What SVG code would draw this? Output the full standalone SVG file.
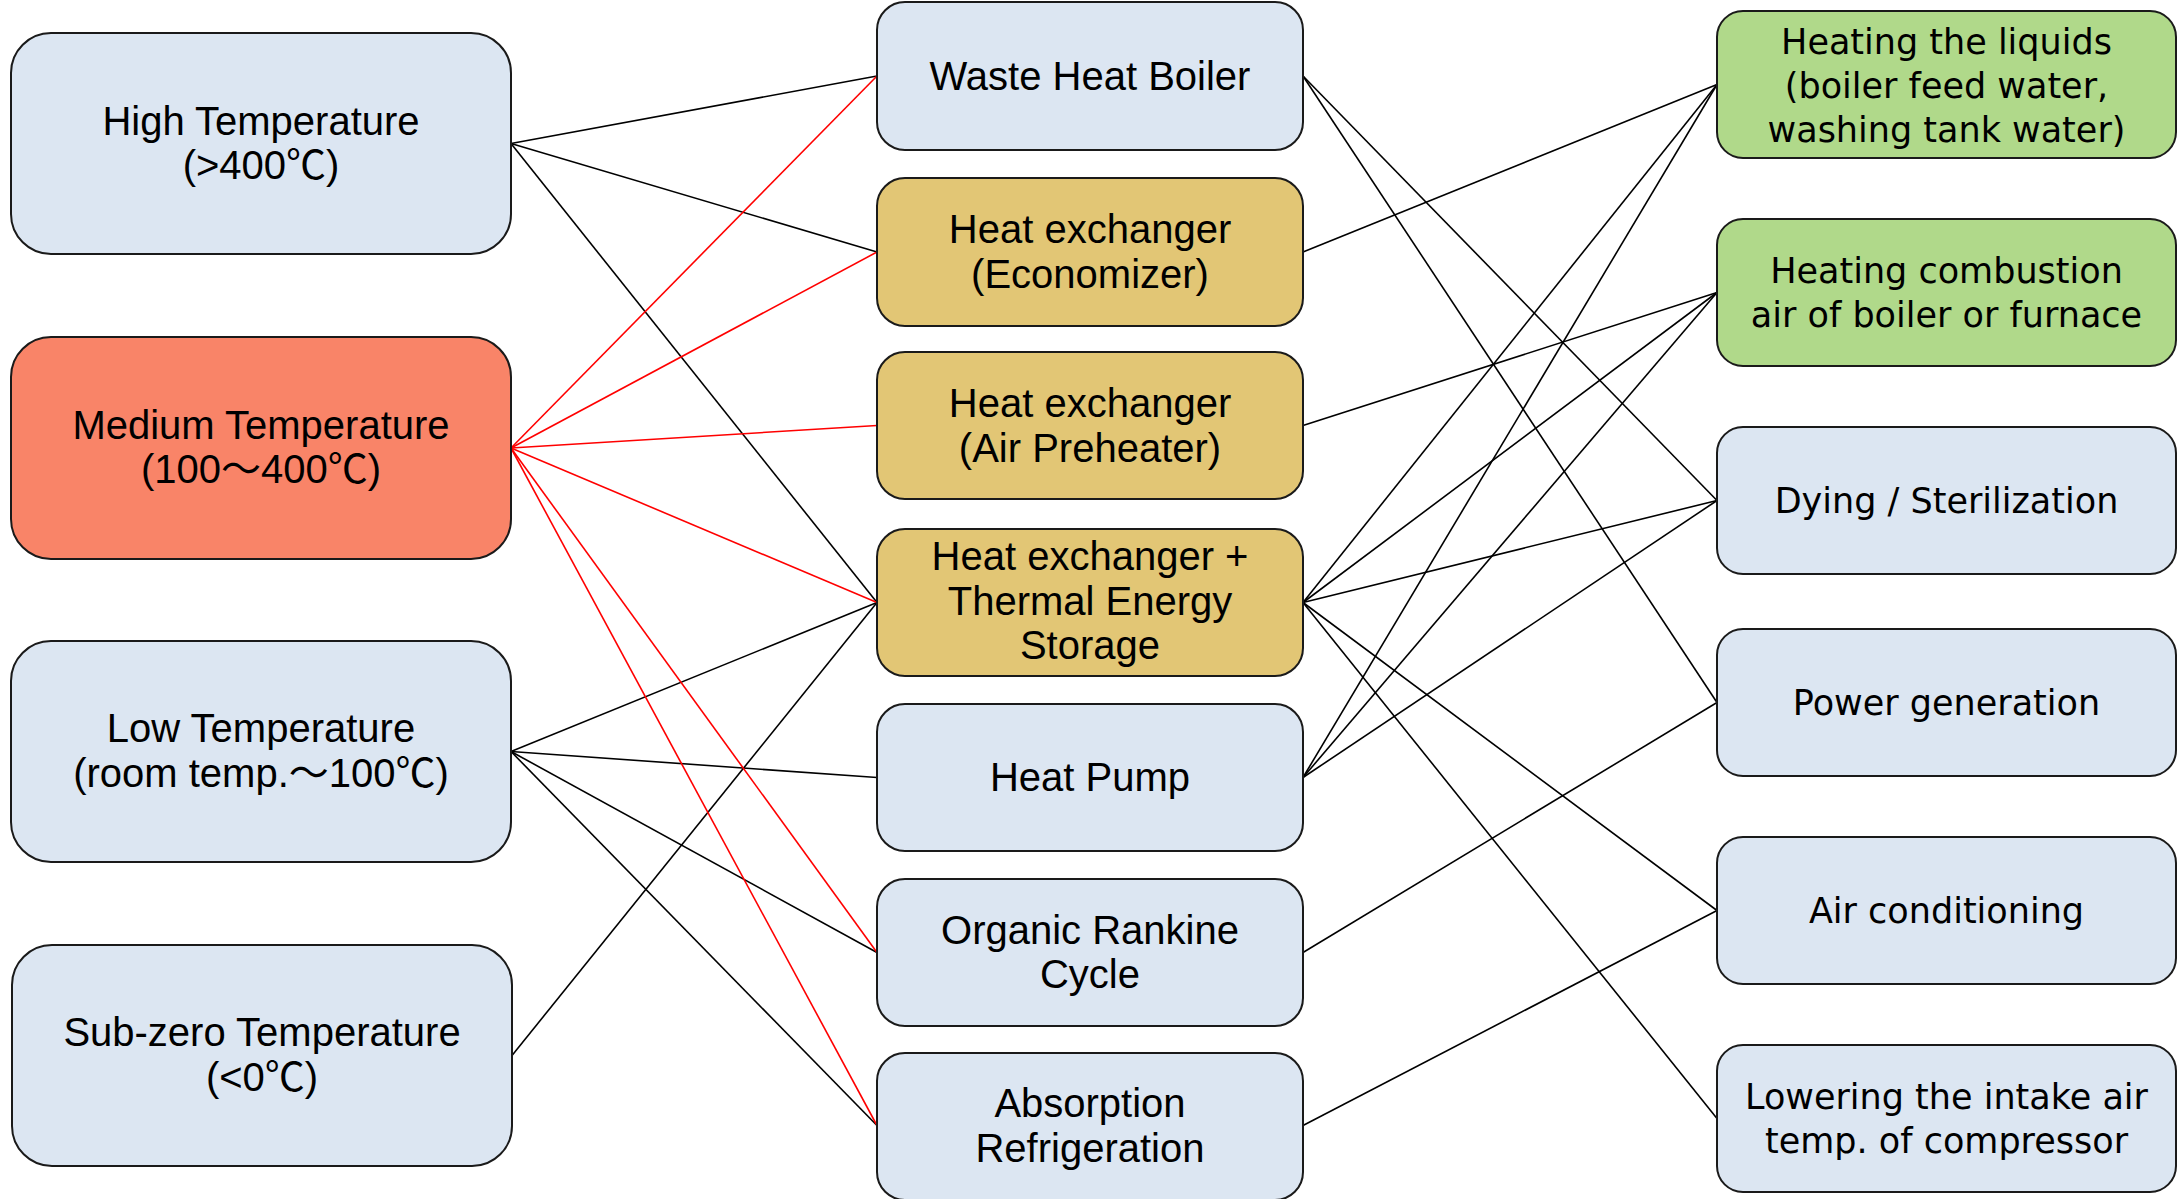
<svg xmlns="http://www.w3.org/2000/svg" width="2178" height="1199" viewBox="0 0 2178 1199">
<style>
.box{stroke:#1a1a1a;stroke-width:2}
.blue{fill:#DCE6F2}
.salmon{fill:#F98468}
.tan{fill:#E2C675}
.green{fill:#B0D98A}
.t{font-family:"Liberation Sans","Noto Sans CJK JP",sans-serif;font-size:40px;fill:#000;text-anchor:middle}
.r{font-family:"DejaVu Sans","Noto Sans CJK JP",sans-serif;font-size:35px;fill:#000;text-anchor:middle}
.k{stroke:#000;stroke-width:1.6;fill:none}
.red{stroke:#FF0000;stroke-width:1.6;fill:none}
</style>
<rect width="2178" height="1199" fill="#fff"/>
<g id="connectors">
<line class="k" x1="511" y1="143.5" x2="877" y2="76"/>
<line class="k" x1="511" y1="143.5" x2="877" y2="252"/>
<line class="k" x1="511" y1="143.5" x2="877" y2="602.5"/>
<line class="k" x1="511" y1="751.5" x2="877" y2="602.5"/>
<line class="k" x1="511" y1="751.5" x2="877" y2="777.5"/>
<line class="k" x1="511" y1="751.5" x2="877" y2="952.5"/>
<line class="k" x1="511" y1="751.5" x2="877" y2="1125.5"/>
<line class="k" x1="512" y1="1055.5" x2="877" y2="602.5"/>
<line class="red" x1="511" y1="448" x2="877" y2="76"/>
<line class="red" x1="511" y1="448" x2="877" y2="252"/>
<line class="red" x1="511" y1="448" x2="877" y2="425.5"/>
<line class="red" x1="511" y1="448" x2="877" y2="602.5"/>
<line class="red" x1="511" y1="448" x2="877" y2="952.5"/>
<line class="red" x1="511" y1="448" x2="877" y2="1125.5"/>
<line class="k" x1="1303" y1="76" x2="1717" y2="500.5"/>
<line class="k" x1="1303" y1="76" x2="1717" y2="702.5"/>
<line class="k" x1="1303" y1="252" x2="1717" y2="84.5"/>
<line class="k" x1="1303" y1="425.5" x2="1717" y2="292.5"/>
<line class="k" x1="1303" y1="602.5" x2="1717" y2="84.5"/>
<line class="k" x1="1303" y1="602.5" x2="1717" y2="292.5"/>
<line class="k" x1="1303" y1="602.5" x2="1717" y2="500.5"/>
<line class="k" x1="1303" y1="602.5" x2="1717" y2="910.5"/>
<line class="k" x1="1303" y1="602.5" x2="1717" y2="1118.5"/>
<line class="k" x1="1303" y1="777.5" x2="1717" y2="84.5"/>
<line class="k" x1="1303" y1="777.5" x2="1717" y2="292.5"/>
<line class="k" x1="1303" y1="777.5" x2="1717" y2="500.5"/>
<line class="k" x1="1303" y1="952.5" x2="1717" y2="702.5"/>
<line class="k" x1="1303" y1="1125.5" x2="1717" y2="910.5"/>
</g>
<g id="high"><rect class="box blue" x="11" y="33" width="500" height="221" rx="40"/><text class="t" x="261" y="134.5">High Temperature</text><text class="t" x="261" y="179">(&gt;400℃)</text></g>
<g id="medium"><rect class="box salmon" x="11" y="337" width="500" height="222" rx="40"/><text class="t" x="261" y="438.5">Medium Temperature</text><text class="t" x="261" y="483">(100～400℃)</text></g>
<g id="low"><rect class="box blue" x="11" y="641" width="500" height="221" rx="40"/><text class="t" x="261" y="742">Low Temperature</text><text class="t" x="261" y="786.5">(room temp.～100℃)</text></g>
<g id="subzero"><rect class="box blue" x="12" y="945" width="500" height="221" rx="40"/><text class="t" x="262" y="1046">Sub-zero Temperature</text><text class="t" x="262" y="1090.5">(&lt;0℃)</text></g>
<g id="whb"><rect class="box blue" x="877" y="2" width="426" height="148" rx="28"/><text class="t" x="1090" y="90">Waste Heat Boiler</text></g>
<g id="econ"><rect class="box tan" x="877" y="178" width="426" height="148" rx="28"/><text class="t" x="1090" y="243">Heat exchanger</text><text class="t" x="1090" y="287.5">(Economizer)</text></g>
<g id="airp"><rect class="box tan" x="877" y="352" width="426" height="147" rx="28"/><text class="t" x="1090" y="417">Heat exchanger</text><text class="t" x="1090" y="461.5">(Air Preheater)</text></g>
<g id="tes"><rect class="box tan" x="877" y="529" width="426" height="147" rx="28"/><text class="t" x="1090" y="570">Heat exchanger +</text><text class="t" x="1090" y="614.5">Thermal Energy</text><text class="t" x="1090" y="659">Storage</text></g>
<g id="hp"><rect class="box blue" x="877" y="704" width="426" height="147" rx="28"/><text class="t" x="1090" y="791">Heat Pump</text></g>
<g id="orc"><rect class="box blue" x="877" y="879" width="426" height="147" rx="28"/><text class="t" x="1090" y="943.5">Organic Rankine</text><text class="t" x="1090" y="988">Cycle</text></g>
<g id="abs"><rect class="box blue" x="877" y="1053" width="426" height="147" rx="28"/><text class="t" x="1090" y="1117">Absorption</text><text class="t" x="1090" y="1161.5">Refrigeration</text></g>
<g id="liquids"><rect class="box green" x="1717" y="11" width="459" height="147" rx="26"/><text class="r" x="1946.5" y="53.5">Heating the liquids</text><text class="r" x="1946.5" y="97.5">(boiler feed water,</text><text class="r" x="1946.5" y="141.5">washing tank water)</text></g>
<g id="combustion"><rect class="box green" x="1717" y="219" width="459" height="147" rx="26"/><text class="r" x="1946.5" y="283">Heating combustion</text><text class="r" x="1946.5" y="327">air of boiler or furnace</text></g>
<g id="dying"><rect class="box blue" x="1717" y="427" width="459" height="147" rx="26"/><text class="r" x="1946.5" y="513">Dying / Sterilization</text></g>
<g id="power"><rect class="box blue" x="1717" y="629" width="459" height="147" rx="26"/><text class="r" x="1946.5" y="715">Power generation</text></g>
<g id="aircond"><rect class="box blue" x="1717" y="837" width="459" height="147" rx="26"/><text class="r" x="1946.5" y="923">Air conditioning</text></g>
<g id="lowering"><rect class="box blue" x="1717" y="1045" width="459" height="147" rx="26"/><text class="r" x="1946.5" y="1109">Lowering the intake air</text><text class="r" x="1946.5" y="1153">temp. of compressor</text></g>
</svg>
